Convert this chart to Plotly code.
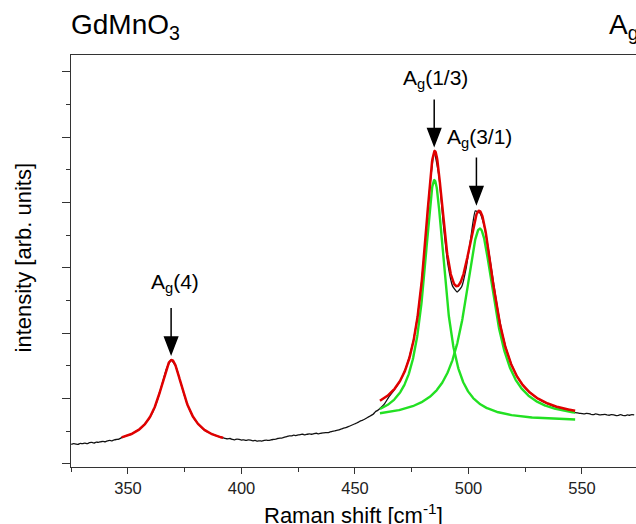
import numpy as np
import plotly.graph_objects as go

# Measured Raman spectrum (black trace); finer sampling on the flat background
shift_cm = (list(range(325, 348)) + list(range(349, 392, 2)) + list(range(392, 461))
            + list(range(461, 548, 2)) + list(range(548, 574)))
intensity = [
    # 325-347
    0.30, 0.31, 0.305, 0.30, 0.315, 0.31, 0.32, 0.31, 0.325, 0.33, 0.32, 0.335,
    0.33, 0.34, 0.345, 0.34, 0.355, 0.36, 0.355, 0.37, 0.375, 0.38, 0.40,
    # 349-391 (step 2)
    0.43, 0.45, 0.49, 0.53, 0.60, 0.68, 0.80, 0.98, 1.22, 1.46, 1.59,
    1.50, 1.27, 1.03, 0.84, 0.70, 0.61, 0.54, 0.49, 0.46, 0.43, 0.41,
    # 392-460
    0.40, 0.39, 0.385, 0.39, 0.375, 0.37, 0.38, 0.375, 0.365, 0.37,
    0.36, 0.37, 0.365, 0.355, 0.36, 0.35, 0.355, 0.35, 0.36, 0.365,
    0.36, 0.37, 0.375, 0.38, 0.39, 0.395, 0.40, 0.41, 0.42, 0.43,
    0.43, 0.44, 0.435, 0.445, 0.45, 0.455, 0.445, 0.455, 0.46, 0.455,
    0.465, 0.47, 0.46, 0.47, 0.475, 0.48, 0.48, 0.49, 0.50, 0.505,
    0.515, 0.52, 0.535, 0.55, 0.555, 0.57, 0.585, 0.60, 0.615, 0.63,
    0.65, 0.665, 0.68, 0.70, 0.72, 0.74, 0.76, 0.80, 0.82,
    # 461-547 (step 2)
    0.85, 0.92, 1.03, 1.12, 1.22, 1.35, 1.53, 1.78, 2.14, 2.66, 3.40,
    4.25, 4.76, 4.40, 3.64, 3.04, 2.72, 2.63, 2.71, 3.00, 3.45, 3.87,
    3.84, 3.63, 3.24, 2.78, 2.34, 1.98, 1.72, 1.52, 1.37, 1.25, 1.16,
    1.10, 1.04, 0.99, 0.95, 0.92, 0.89, 0.865, 0.845, 0.825, 0.80, 0.785,
    # 548-573
    0.78, 0.775, 0.77, 0.765, 0.775, 0.77, 0.76, 0.755, 0.765, 0.76,
    0.75, 0.755, 0.76, 0.75, 0.745, 0.755, 0.75, 0.74, 0.745, 0.755,
    0.745, 0.74, 0.75, 0.745, 0.755, 0.75,
]
assert len(shift_cm) == len(intensity)

# Lorentzian fit parameters: Ag(4), Ag(1/3), Ag(3/1)
peak_names = ["A<sub>g</sub>(4)", "A<sub>g</sub>(1/3)", "A<sub>g</sub>(3/1)"]
peak_centre = [369.2, 485.0, 505.0]
peak_hwhm = [6.6, 5.6, 8.1]
peak_height = [1.29, 3.69, 2.92]
single_offset = 0.30          # background under the Ag(4) fit
doublet_offset = 0.68         # background under the two-peak fit
component_offset = [0.65, 0.68]
single_range = [347.2, 391.9]
doublet_range = [461.0, 547.0]

# arrow targets (peak positions marked by the labels)
arrow_x = [369.0, 484.9, 503.5]
arrow_y = [1.59, 4.78, 3.89]


def lorentz(x, c, g, a):
    return a * g ** 2 / ((x - c) ** 2 + g ** 2)


xs1 = np.linspace(single_range[0], single_range[1], 300)
fit1 = single_offset + lorentz(xs1, peak_centre[0], peak_hwhm[0], peak_height[0])

xs2 = np.linspace(doublet_range[0], doublet_range[1], 600)
comp_a = lorentz(xs2, peak_centre[1], peak_hwhm[1], peak_height[1])
comp_b = lorentz(xs2, peak_centre[2], peak_hwhm[2], peak_height[2])
fit2 = doublet_offset + comp_a + comp_b

RED = "#e00000"
GREEN = "#22e022"
FONT = "Arial, Liberation Sans, sans-serif"

fig = go.Figure()
fig.add_trace(go.Scatter(x=shift_cm, y=intensity, mode="lines",
                         line=dict(color="#111111", width=1.3, shape="spline", smoothing=0.4)))
fig.add_trace(go.Scatter(x=xs2, y=component_offset[0] + comp_a, mode="lines",
                         line=dict(color=GREEN, width=2.4)))
fig.add_trace(go.Scatter(x=xs2, y=component_offset[1] + comp_b, mode="lines",
                         line=dict(color=GREEN, width=2.4)))
fig.add_trace(go.Scatter(x=xs1, y=fit1, mode="lines", line=dict(color=RED, width=2.5)))
fig.add_trace(go.Scatter(x=xs2, y=fit2, mode="lines", line=dict(color=RED, width=2.5)))

# downward arrows above each peak (pixel-sized, anchored at the peak)
for xa, ya in zip(arrow_x, arrow_y):
    fig.add_shape(type="path", xref="x", yref="y", xsizemode="pixel", ysizemode="pixel",
                  xanchor=xa, yanchor=ya,
                  path="M0,52 V23 M-6.5,23 L6.5,23 L0,6 Z",
                  line=dict(color="black", width=1.5), fillcolor="black")

label_dy = [77, 72, 72]
label_dx = [4, 1.5, 3.5]
for name, xa, ya, dy, dx in zip(peak_names, arrow_x, arrow_y, label_dy, label_dx):
    fig.add_annotation(x=xa, y=ya, xref="x", yref="y", text=name, showarrow=False,
                       xanchor="center", yanchor="middle", xshift=dx, yshift=dy,
                       font=dict(family=FONT, size=21, color="black"))

fig.add_annotation(x=0, y=1, xref="paper", yref="paper", text="GdMnO<sub>3</sub>",
                   showarrow=False, xanchor="left", yanchor="middle", xshift=-2, yshift=29,
                   font=dict(family=FONT, size=28, color="black"))
fig.add_annotation(x=0.952, y=1, xref="paper", yref="paper", text="A<sub>g</sub>",
                   showarrow=False, xanchor="left", yanchor="middle", xshift=-2, yshift=29,
                   font=dict(family=FONT, size=28, color="black"))
fig.add_annotation(x=0.5, y=0, xref="paper", yref="paper", text="Raman shift [cm<sup>-1</sup>]",
                   showarrow=False, xanchor="center", yanchor="middle", yshift=-47,
                   font=dict(family=FONT, size=22, color="black"))
fig.add_annotation(x=0, y=0.5085, xref="paper", yref="paper", text="intensity [arb. units]",
                   showarrow=False, xanchor="center", yanchor="middle", xshift=-48,
                   textangle=-90, font=dict(family=FONT, size=22, color="black"))

fig.update_layout(
    width=636, height=524,
    margin=dict(l=71, r=0, t=55, b=57),
    paper_bgcolor="white", plot_bgcolor="white",
    showlegend=False,
    font=dict(family=FONT, color="black"),
)
fig.update_xaxes(range=[324.9, 573.8], showgrid=False, zeroline=False,
                 showline=True, linecolor="#333333", linewidth=1.3, mirror=True,
                 ticks="outside", ticklen=6, tickwidth=1.2, tickcolor="#333333",
                 tick0=0, dtick=50, tickfont=dict(family=FONT, size=16.5, color="#222222"),
                 minor=dict(dtick=25, ticks="outside", ticklen=4, tickwidth=1.2, tickcolor="#333333"))
fig.update_yaxes(range=[-0.046, 6.254], showgrid=False, zeroline=False,
                 showline=True, linecolor="#333333", linewidth=1.3,
                 ticks="outside", ticklen=8, tickwidth=1.2, tickcolor="#333333",
                 tick0=0, dtick=1, showticklabels=False,
                 minor=dict(dtick=0.5, ticks="outside", ticklen=4, tickwidth=1.2, tickcolor="#333333"))

fig.write_html("out.html")
